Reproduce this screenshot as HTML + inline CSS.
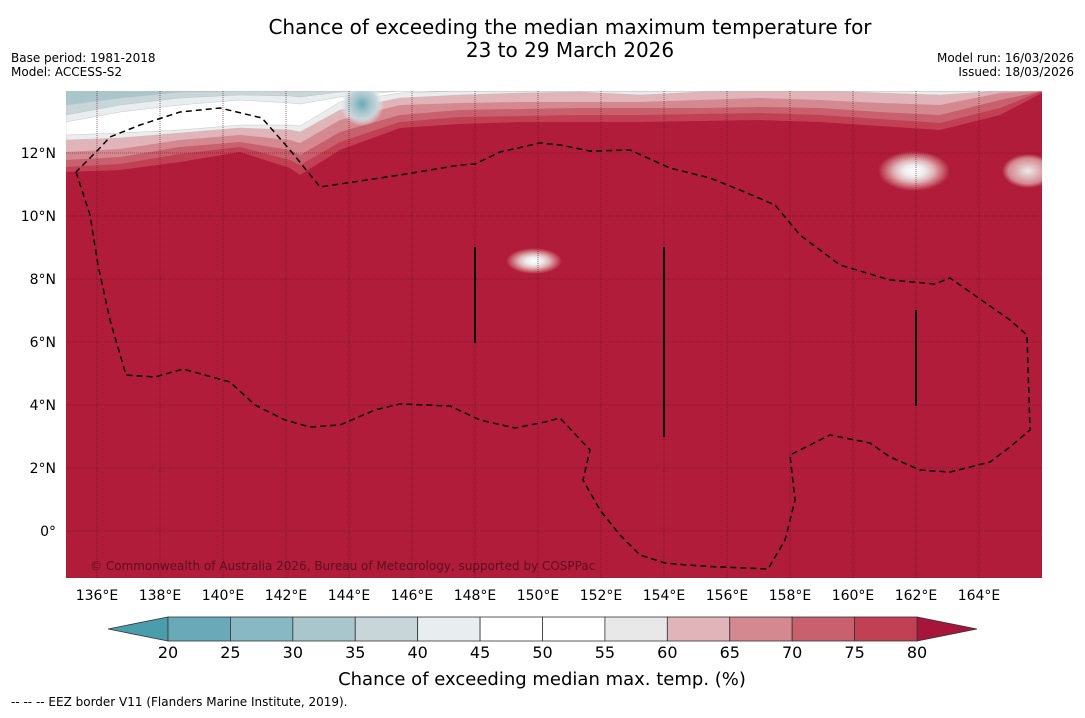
<!DOCTYPE html>
<html><head><meta charset="utf-8"><style>
body{margin:0;background:#fff;width:1085px;height:713px;overflow:hidden;font-family:"Liberation Sans","DejaVu Sans",sans-serif}
svg text{font-family:"DejaVu Sans","Liberation Sans",sans-serif}
</style></head><body>
<svg id="chart" width="1085" height="713" xmlns="http://www.w3.org/2000/svg">
<text x="570" y="34" font-size="20" text-anchor="middle">Chance of exceeding the median maximum temperature for</text>
<text x="570" y="57" font-size="20" text-anchor="middle">23 to 29 March 2026</text>
<text x="11" y="62" font-size="12">Base period: 1981-2018</text>
<text x="11" y="76" font-size="12">Model: ACCESS-S2</text>
<text x="1074" y="62" font-size="12" text-anchor="end">Model run: 16/03/2026</text>
<text x="1074" y="76" font-size="12" text-anchor="end">Issued: 18/03/2026</text>
<defs>
<clipPath id="mapclip"><rect x="66" y="91" width="976" height="487"/></clipPath>
<radialGradient id="hot"><stop offset="0" stop-color="#fff"/><stop offset="0.3" stop-color="#ececec"/><stop offset="0.55" stop-color="#e0b4b8"/><stop offset="0.8" stop-color="#c8606e"/><stop offset="1" stop-color="#b01c3a"/></radialGradient>
<radialGradient id="warm"><stop offset="0" stop-color="#ececec"/><stop offset="0.4" stop-color="#e0b4b8"/><stop offset="0.75" stop-color="#d48890"/><stop offset="1" stop-color="#b01c3a"/></radialGradient>
<radialGradient id="cool"><stop offset="0" stop-color="#6aaab8"/><stop offset="0.4" stop-color="#a8c6cc"/><stop offset="0.7" stop-color="#c8d6da"/><stop offset="1" stop-color="#e8eef0" stop-opacity="0"/></radialGradient>
</defs>
<g id="map" clip-path="url(#mapclip)">
<rect x="66" y="91" width="976" height="487" fill="#b01c3a"/>
<g id="bands"></g>
<circle cx="362" cy="104" r="22" fill="url(#cool)"/>
<ellipse cx="914" cy="171" rx="36" ry="20" fill="url(#hot)"/>
<ellipse cx="1028" cy="171" rx="26" ry="17" fill="url(#warm)"/>
<ellipse cx="534" cy="261" rx="28" ry="13" fill="url(#hot)"/>
<g id="grid"></g>
<polyline fill="none" stroke="#000" stroke-width="1.5" stroke-dasharray="6,4" points="76,172 90,215 98,265 110,320 126,375 155,377 183,369 230,382 255,405 285,420 310,427 340,425 375,410 400,404 450,406 480,420 515,428 545,422 560,418 590,450 583,480 600,510 620,535 640,555 665,563 700,566 768,569 785,540 795,500 790,455 830,435 870,443 890,457 920,470 950,472 990,462 1010,447 1030,430 1027,335 1010,320 950,278 935,284 890,280 840,265 800,235 775,205 740,190 710,178 670,168 630,150 590,151 560,145 540,143 500,152 475,164 460,165 400,175 320,187 290,150 262,118 220,108 180,112 140,125 110,137 98,150 76,172"/>
<line x1="475" y1="247" x2="475" y2="343" stroke="#000" stroke-width="2"/>
<line x1="664" y1="247" x2="664" y2="437" stroke="#000" stroke-width="2"/>
<line x1="916" y1="310" x2="916" y2="406" stroke="#000" stroke-width="2"/>
<text x="90" y="570" font-size="12" fill="#5a1020">© Commonwealth of Australia 2026, Bureau of Meteorology, supported by COSPPac</text>
</g>
<g id="ticks"></g>
<g id="colorbar"></g>
<text x="542" y="685" font-size="18" text-anchor="middle">Chance of exceeding median max. temp. (%)</text>
<text x="11" y="706" font-size="12">--  --  -- EEZ border V11 (Flanders Marine Institute, 2019).</text>
</svg>
<script>
const NS="http://www.w3.org/2000/svg";
const lonTicks=[136,138,140,142,144,146,148,150,152,154,156,158,160,162,164];
const latTicks=[0,2,4,6,8,10,12];
const cbLevels=[20,25,30,35,40,45,50,55,60,65,70,75,80];
const cbColors=["#6aaab8","#88b8c4","#a8c6cc","#c8d6da","#e8eef0","#ffffff","#ffffff","#e8e8e8","#e0b4b8","#d48890","#c8606e","#c24054"];
const bandX=[66,120,180,240,290,300,340,400,460,520,580,640,700,760,820,880,940,1000,1042];
const bandLevels=[80,75,70,65,60,55,45,40,35];
const bandFill=["#c24054","#c8606e","#d48890","#e0b4b8","#ececec","#ffffff","#e8eef0","#c8d6da","#a8c6cc"];
const bandY=[
[172,170,162,152,168,175,150,128,124,122,122,122,121,120,122,126,130,115,93],
[167,164,154,147,160,165,142,122,117,116,115,115,114,113,115,119,123,108,91],
[160,157,147,142,150,155,132,115,110,109,108,108,108,107,108,112,115,100,91],
[152,149,140,135,140,143,120,105,103,102,102,102,100,98,100,103,105,93,91],
[140,138,133,128,130,132,110,98,95,93,92,95,92,91,91,93,95,91,91],
[135,133,130,125,125,126,102,93,91,91,91,91,91,91,91,91,91,91,91],
[122,112,105,100,103,104,97,91,91,91,91,91,91,91,91,91,91,91,91],
[115,105,98,95,96,97,92,91,91,91,91,91,91,91,91,91,91,91,91],
[105,98,92,91,91,91,91,91,91,91,91,91,91,91,91,91,91,91,91]];
const xLon=l=>65.5+(l-135)*31.5, yLat=l=>531-l*31.5;
const bands=document.getElementById('bands');
bandY.forEach((row,i)=>{
 const p=document.createElementNS(NS,'polygon');
 let pts="66,91 "+bandX.map((x,j)=>x+","+row[j]).join(" ")+" 1042,91";
 p.setAttribute('points',pts);p.setAttribute('fill',bandFill[i]);
 p.setAttribute('stroke',i>=4?'#bbb':'none');p.setAttribute('stroke-width','0.4');
 
 
 bands.appendChild(p);
});
const grid=document.getElementById('grid'),ticks=document.getElementById('ticks');
lonTicks.forEach(l=>{
 const ln=document.createElementNS(NS,'line');const x=xLon(l);
 ln.setAttribute('x1',x);ln.setAttribute('x2',x);ln.setAttribute('y1',91);ln.setAttribute('y2',578);
 ln.setAttribute('stroke','#5a1020');ln.setAttribute('stroke-width','0.6');ln.setAttribute('stroke-dasharray','1,1');
 
 
 grid.appendChild(ln);
 const t=document.createElementNS(NS,'text');t.setAttribute('x',x);t.setAttribute('y',600);
 t.setAttribute('font-size','14');t.setAttribute('text-anchor','middle');t.textContent=l+"°E";
 
 
 ticks.appendChild(t);
});
latTicks.forEach(l=>{
 const y=yLat(l);const ln=document.createElementNS(NS,'line');
 ln.setAttribute('x1',66);ln.setAttribute('x2',1042);ln.setAttribute('y1',y);ln.setAttribute('y2',y);
 ln.setAttribute('stroke','#5a1020');ln.setAttribute('stroke-width','0.6');ln.setAttribute('stroke-dasharray','1,1');
 
 
 grid.appendChild(ln);
 const t=document.createElementNS(NS,'text');t.setAttribute('x',56);t.setAttribute('y',y+5);
 t.setAttribute('font-size','14');t.setAttribute('text-anchor','end');t.textContent=l===0?"0°":l+"°N";
 
 
 ticks.appendChild(t);
});
const cb=document.getElementById('colorbar');
const cx0=168,cx1=917,cy0=617,cy1=641,seg=(cx1-cx0)/(cbLevels.length-1);
const lt=document.createElementNS(NS,'polygon');
lt.setAttribute('points',`108,629 ${cx0},${cy0} ${cx0},${cy1}`);lt.setAttribute('fill','#4a9eac');lt.setAttribute('stroke','#333');lt.setAttribute('stroke-width','0.8');


cb.appendChild(lt);
const rt=document.createElementNS(NS,'polygon');
rt.setAttribute('points',`977,629 ${cx1},${cy0} ${cx1},${cy1}`);rt.setAttribute('fill','#a8153a');rt.setAttribute('stroke','#333');rt.setAttribute('stroke-width','0.8');


cb.appendChild(rt);
cbColors.forEach((c,i)=>{
 const r=document.createElementNS(NS,'rect');
 r.setAttribute('x',cx0+i*seg);r.setAttribute('y',cy0);r.setAttribute('width',seg);r.setAttribute('height',cy1-cy0);
 r.setAttribute('fill',c);r.setAttribute('stroke','#333');r.setAttribute('stroke-width','0.8');
 
 
 cb.appendChild(r);
});
cbLevels.forEach((v,i)=>{
 const t=document.createElementNS(NS,'text');t.setAttribute('x',cx0+i*seg);t.setAttribute('y',658);
 t.setAttribute('font-size','16');t.setAttribute('text-anchor','middle');t.textContent=v;
 
 
 cb.appendChild(t);
});
</script>
</body></html>
